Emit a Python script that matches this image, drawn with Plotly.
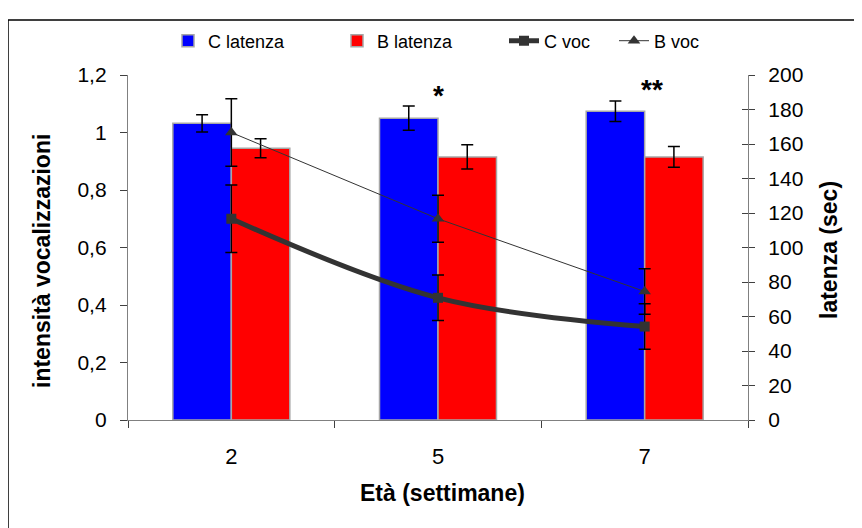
import plotly.graph_objects as go

# ---- data ----
weeks = ["2", "5", "7"]
c_latenza = [172.0, 175.0, 179.0]
c_latenza_err = [5.0, 7.0, 6.0]
b_latenza = [157.5, 152.5, 152.5]
b_latenza_err = [5.5, 7.0, 6.0]
c_voc = [0.70, 0.425, 0.325]
c_voc_err = [0.117, 0.079, 0.079]
b_voc = [1.0, 0.70, 0.447]
b_voc_err = [0.117, 0.082, 0.079]
left_ticks = [0, 0.2, 0.4, 0.6, 0.8, 1.0, 1.2]
left_ticktext = ["0", "0,2", "0,4", "0,6", "0,8", "1", "1,2"]
right_ticks = [0, 20, 40, 60, 80, 100, 120, 140, 160, 180, 200]
stars = ["*", "**"]
star_weeks = ["5", "7"]
star_y = [1.13, 1.148]

FONT = "Liberation Sans, Arial, sans-serif"
W, H = 862, 528
OFF = 8  # page body margin
# plot area as seen on screen: x 128..748, y 75..420
L, R, T, B = 128 - OFF, W - (748 - OFF), 75 - OFF, H - (420 - OFF)
PW, PH = W - L - R, H - T - B


def px(x):
    return (x - OFF - L) / PW


def py(y):
    return (H - B - (y - OFF)) / PH


fig = go.Figure()

fig.add_trace(go.Bar(
    x=weeks, y=c_latenza, name="C latenza", yaxis="y",
    marker=dict(color="#0000FF", line=dict(color="#A6A6A6", width=1.5)),
    error_y=dict(type="data", array=c_latenza_err, color="black", thickness=1.5, width=6),
    legend="legend",
))
fig.add_trace(go.Bar(
    x=weeks, y=b_latenza, name="B latenza", yaxis="y",
    marker=dict(color="#FF0000", line=dict(color="#A6A6A6", width=1.5)),
    error_y=dict(type="data", array=b_latenza_err, color="black", thickness=1.5, width=6),
    legend="legend2",
))
fig.add_trace(go.Scatter(
    x=weeks, y=c_voc, name="C voc", yaxis="y2", mode="lines+markers",
    line=dict(color="#333333", width=5, shape="spline", smoothing=1),
    marker=dict(symbol="square", size=10, color="#333333"),
    error_y=dict(type="data", array=c_voc_err, color="black", thickness=1.5, width=6),
    legend="legend3",
))
fig.add_trace(go.Scatter(
    x=weeks, y=b_voc, name="B voc", yaxis="y2", mode="lines+markers",
    line=dict(color="#333333", width=1),
    marker=dict(symbol="triangle-up", size=11, color="#333333"),
    error_y=dict(type="data", array=b_voc_err, color="black", thickness=1.5, width=6),
    legend="legend4",
))
# invisible helper for the inner half of the right-axis cross ticks
fig.add_trace(go.Scatter(x=weeks, y=[None, None, None], yaxis="y3",
                         showlegend=False, hoverinfo="skip"))

for s, w, yv in zip(stars, star_weeks, star_y):
    fig.add_annotation(x=weeks.index(w), y=yv, xref="x", yref="y2", text="<b>%s</b>" % s,
                       showarrow=False, font=dict(family=FONT, size=28, color="black"),
                       xshift=0 if s == "*" else 7)

title_font = dict(family=FONT, size=23, color="black")
fig.add_annotation(x=px(42), y=py(261), xref="paper", yref="paper",
                   text="<b>intensità vocalizzazioni</b>", textangle=-90,
                   showarrow=False, font=title_font, xanchor="center", yanchor="middle")
fig.add_annotation(x=px(829), y=py(250), xref="paper", yref="paper",
                   text="<b>latenza (sec)</b>", textangle=-90,
                   showarrow=False, font=title_font, xanchor="center", yanchor="middle")
fig.add_annotation(x=px(442), y=py(493), xref="paper", yref="paper",
                   text="<b>Età (settimane)</b>",
                   showarrow=False, font=title_font, xanchor="center", yanchor="middle")

# outer chart frame
fig.add_shape(type="rect", xref="paper", yref="paper",
              x0=px(8), x1=px(900), y0=py(560), y1=py(20),
              line=dict(color="black", width=1.5), fillcolor="rgba(0,0,0,0)")

axis_line = "#808080"
tick_col = "#404040"
tick_font = dict(family=FONT, size=21, color="black")
leg_font = dict(family=FONT, size=18, color="black")
leg_y = py(41)


def leg(xpix):
    return dict(x=px(xpix), y=leg_y, xanchor="left", yanchor="middle",
                orientation="h", font=leg_font, bgcolor="rgba(0,0,0,0)",
                borderwidth=0)


fig.update_layout(
    width=W, height=H,
    margin=dict(l=L, r=R, t=T, b=B),
    paper_bgcolor="white", plot_bgcolor="white",
    barmode="group", bargap=0.434, bargroupgap=0,
    font=dict(family=FONT, color="black"),
    legend=leg(209 - 41),
    legend2=leg(378 - 41),
    legend3=leg(545 - 41),
    legend4=leg(655 - 41),
    xaxis=dict(type="category", range=[-0.5, 2.5], autorange=False,
               showline=True, linecolor=axis_line, linewidth=1.3,
               ticks="outside", tickson="boundaries", ticklen=7, tickcolor=tick_col,
               tickfont=dict(family=FONT, size=22, color="black"),
               ticklabelstandoff=16, showgrid=False, zeroline=False),
    yaxis=dict(range=[0, 200], side="right", tickvals=right_ticks,
               showline=True, linecolor=axis_line, linewidth=1.3,
               ticks="outside", ticklen=6, tickcolor=tick_col, tickfont=tick_font,
               ticklabelstandoff=9, showgrid=False, zeroline=False),
    yaxis2=dict(range=[0, 1.2], side="left", overlaying="y", anchor="x",
                tickvals=left_ticks, ticktext=left_ticktext,
                showline=True, linecolor=axis_line, linewidth=1.3,
                ticks="outside", ticklen=7, tickcolor=tick_col, tickfont=tick_font,
                ticklabelstandoff=9, showgrid=False, zeroline=False),
    yaxis3=dict(range=[0, 200], side="right", overlaying="y", anchor="x",
                tickvals=right_ticks, showticklabels=False, showline=False,
                ticks="inside", ticklen=6, tickcolor=tick_col,
                showgrid=False, zeroline=False),
)

fig.write_html("out.html")
